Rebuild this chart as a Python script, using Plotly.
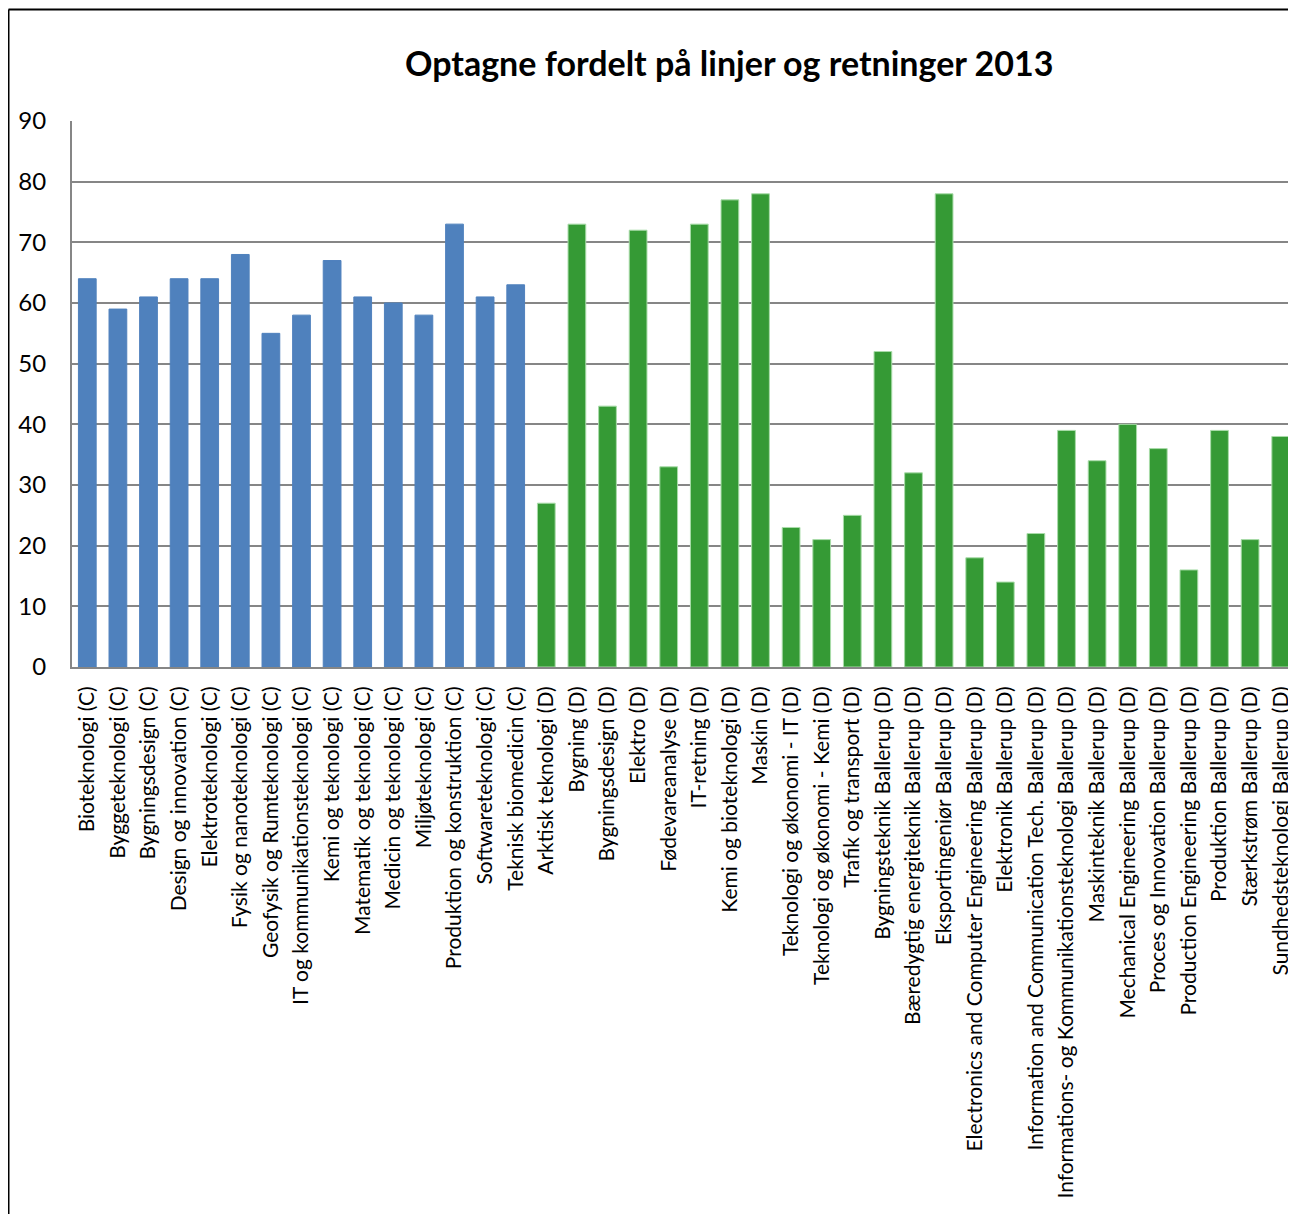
import plotly.graph_objects as go

categories_c = [
    "Bioteknologi (C)", "Byggeteknologi (C)", "Bygningsdesign (C)", "Design og innovation (C)",
    "Elektroteknologi (C)", "Fysik og nanoteknologi (C)", "Geofysik og Rumteknologi (C)",
    "IT og kommunikationsteknologi (C)", "Kemi og teknologi (C)", "Matematik og teknologi (C)",
    "Medicin og teknologi (C)", "Miljøteknologi (C)", "Produktion og konstruktion (C)",
    "Softwareteknologi (C)", "Teknisk biomedicin (C)",
]
values_c = [64, 59, 61, 64, 64, 68, 55, 58, 67, 61, 60, 58, 73, 61, 63]

categories_d = [
    "Arktisk teknologi (D)", "Bygning (D)", "Bygningsdesign (D)", "Elektro (D)",
    "Fødevareanalyse (D)", "IT-retning (D)", "Kemi og bioteknologi (D)", "Maskin (D)",
    "Teknologi og økonomi - IT (D)", "Teknologi og økonomi - Kemi (D)", "Trafik og transport (D)",
    "Bygningsteknik Ballerup (D)", "Bæredygtig energiteknik Ballerup (D)", "Eksportingeniør Ballerup (D)",
    "Electronics and Computer Engineering Ballerup (D)", "Elektronik Ballerup (D)",
    "Information and Communication Tech. Ballerup (D)",
    "Informations- og Kommunikationsteknologi Ballerup (D)", "Maskinteknik Ballerup (D)",
    "Mechanical Engineering Ballerup (D)", "Proces og Innovation Ballerup (D)",
    "Production Engineering Ballerup (D)", "Produktion Ballerup (D)", "Stærkstrøm Ballerup (D)",
    "Sundhedsteknologi Ballerup (D)",
]
values_d = [27, 73, 43, 72, 33, 73, 77, 78, 23, 21, 25, 52, 32, 78, 18, 14, 22, 39, 34, 40, 36, 16, 39, 21, 38]

y_ticks = [0, 10, 20, 30, 40, 50, 60, 70, 80, 90]
title_text = "Optagne fordelt på linjer og retninger 2013"

BLUE = "#4F81BD"
GREEN = "#359A35"
FONT = "Lato"

cats = categories_c + categories_d
vals = values_c + values_d
colors = [BLUE] * len(values_c) + [GREEN] * len(values_d)
line_colors = [BLUE] * len(values_c) + ["#A9DCA9"] * len(values_d)

# page has an 8px body margin; figure coords = reference coords - 8
OFF = 8
W, H = 1288, 1206
L, R, T = 72 - OFF, 0, 121 - OFF
B = H - (667 - OFF)

fig = go.Figure()
fig.add_trace(go.Bar(
    x=list(range(len(cats))), y=vals,
    marker=dict(color=colors, line=dict(color=line_colors, width=1)),
    width=0.58,
))

fig.update_layout(
    width=W, height=H,
    margin=dict(l=L, r=R, t=T, b=B, pad=0),
    paper_bgcolor="white", plot_bgcolor="white",
    showlegend=False,
    font=dict(family=FONT, color="black"),
    xaxis=dict(
        range=[-0.5, len(cats) - 0.5],
        tickmode="array", tickvals=list(range(len(cats))), ticktext=cats,
        tickangle=-90, tickfont=dict(size=21, family=FONT, color="black"),
        showgrid=False, showline=True, linecolor="#868686", linewidth=2,
        ticks="outside", ticklen=9, tickcolor="rgba(0,0,0,0)",
        zeroline=False,
    ),
    yaxis=dict(
        range=[0, 90], tickmode="array", tickvals=y_ticks,
        tickfont=dict(size=24, family=FONT, color="black"),
        showgrid=True, gridcolor="#868686", gridwidth=2,
        showline=True, linecolor="#868686", linewidth=2,
        ticks="outside", ticklen=19, tickcolor="rgba(0,0,0,0)",
        zeroline=False,
    ),
)

pw, ph = W - L - R, H - T - B
def px_x(px):
    return (px - OFF - L) / pw
def px_y(py):
    return (H - B - (py - OFF)) / ph

fig.add_annotation(
    text="<b>" + title_text + "</b>",
    xref="paper", yref="paper",
    x=px_x(729), y=px_y(63),
    xanchor="center", yanchor="middle", showarrow=False,
    font=dict(size=34, family=FONT, color="black"),
)

# outer chart border (left and top visible, rest cropped)
fig.add_shape(type="line", xref="paper", yref="paper",
              x0=px_x(8.5), x1=px_x(8.5), y0=px_y(9.5), y1=px_y(1240),
              line=dict(color="black", width=2))
fig.add_shape(type="line", xref="paper", yref="paper",
              x0=px_x(8.5), x1=px_x(1310), y0=px_y(9.5), y1=px_y(9.5),
              line=dict(color="black", width=2))

fig.write_html("out.html")
